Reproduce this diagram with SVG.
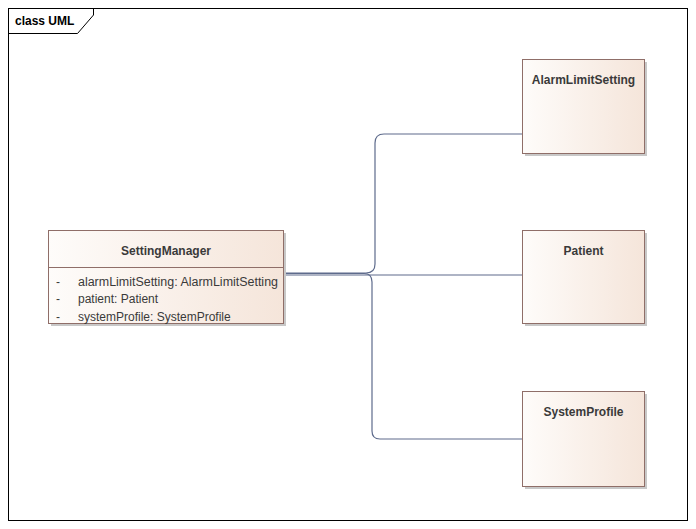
<svg xmlns="http://www.w3.org/2000/svg" width="696" height="529" viewBox="0 0 696 529">
<defs>
<linearGradient id="g" x1="0" y1="0" x2="1" y2="0">
<stop offset="0" stop-color="#fefcfa"/>
<stop offset="1" stop-color="#f5e5da"/>
</linearGradient>
</defs>
<style>
.frame{fill:none;stroke:#000;stroke-width:1}
.shadow{fill:#c8c8c8}
.box{fill:url(#g);stroke:#8f6e68;stroke-width:1}
.div{stroke:#8f6e68;stroke-width:1}
.t{font-family:"Liberation Sans",Arial,sans-serif;font-size:12px;fill:#3a3a3a}
.b{font-weight:bold}
.conn{fill:none;stroke:#5e6b8c;stroke-width:1.2}
</style>
<rect x="0" y="0" width="696" height="529" fill="#fff"/>
<g id="frame">
<rect class="frame" x="8.5" y="8.5" width="679" height="512"/>
<path class="frame" d="M8.5 33.5 H77.5 L93.5 15 V8.5"/>
<text class="t b" x="15" y="25" style="fill:#000">class UML</text>
</g>
<g id="connectors">
<path class="conn" d="M283 273 H366 Q375 273 375 264 V143 Q375 134 384 134 H522"/>
<path class="conn" d="M283 275 H522"/>
<path class="conn" d="M283 273.5 H364 Q372 273.5 372 282 V431 Q372 439 380 439 H522"/>
</g>
<g id="SettingManager">
<rect class="shadow" x="51" y="233" width="235" height="93"/>
<rect class="box" x="48.5" y="230.5" width="235" height="93"/>
<line class="div" x1="48.5" y1="267.5" x2="283.5" y2="267.5"/>
<text class="t b" x="166" y="255" text-anchor="middle">SettingManager</text>
<text class="t" x="56" y="286">-</text>
<text class="t" x="78" y="286" textLength="200" lengthAdjust="spacingAndGlyphs">alarmLimitSetting: AlarmLimitSetting</text>
<text class="t" x="56" y="303">-</text>
<text class="t" x="78" y="303">patient: Patient</text>
<text class="t" x="56" y="321">-</text>
<text class="t" x="78" y="321">systemProfile: SystemProfile</text>
</g>
<g id="AlarmLimitSetting">
<rect class="shadow" x="525" y="62" width="122" height="94"/>
<rect class="box" x="522.5" y="59.5" width="122" height="94"/>
<text class="t b" x="583.5" y="84" text-anchor="middle">AlarmLimitSetting</text>
</g>
<g id="Patient">
<rect class="shadow" x="525" y="233" width="122" height="93"/>
<rect class="box" x="522.5" y="230.5" width="122" height="93"/>
<text class="t b" x="583.5" y="255" text-anchor="middle">Patient</text>
</g>
<g id="SystemProfile">
<rect class="shadow" x="525" y="394" width="122" height="95"/>
<rect class="box" x="522.5" y="391.5" width="122" height="95"/>
<text class="t b" x="583.5" y="416" text-anchor="middle">SystemProfile</text>
</g>
</svg>
